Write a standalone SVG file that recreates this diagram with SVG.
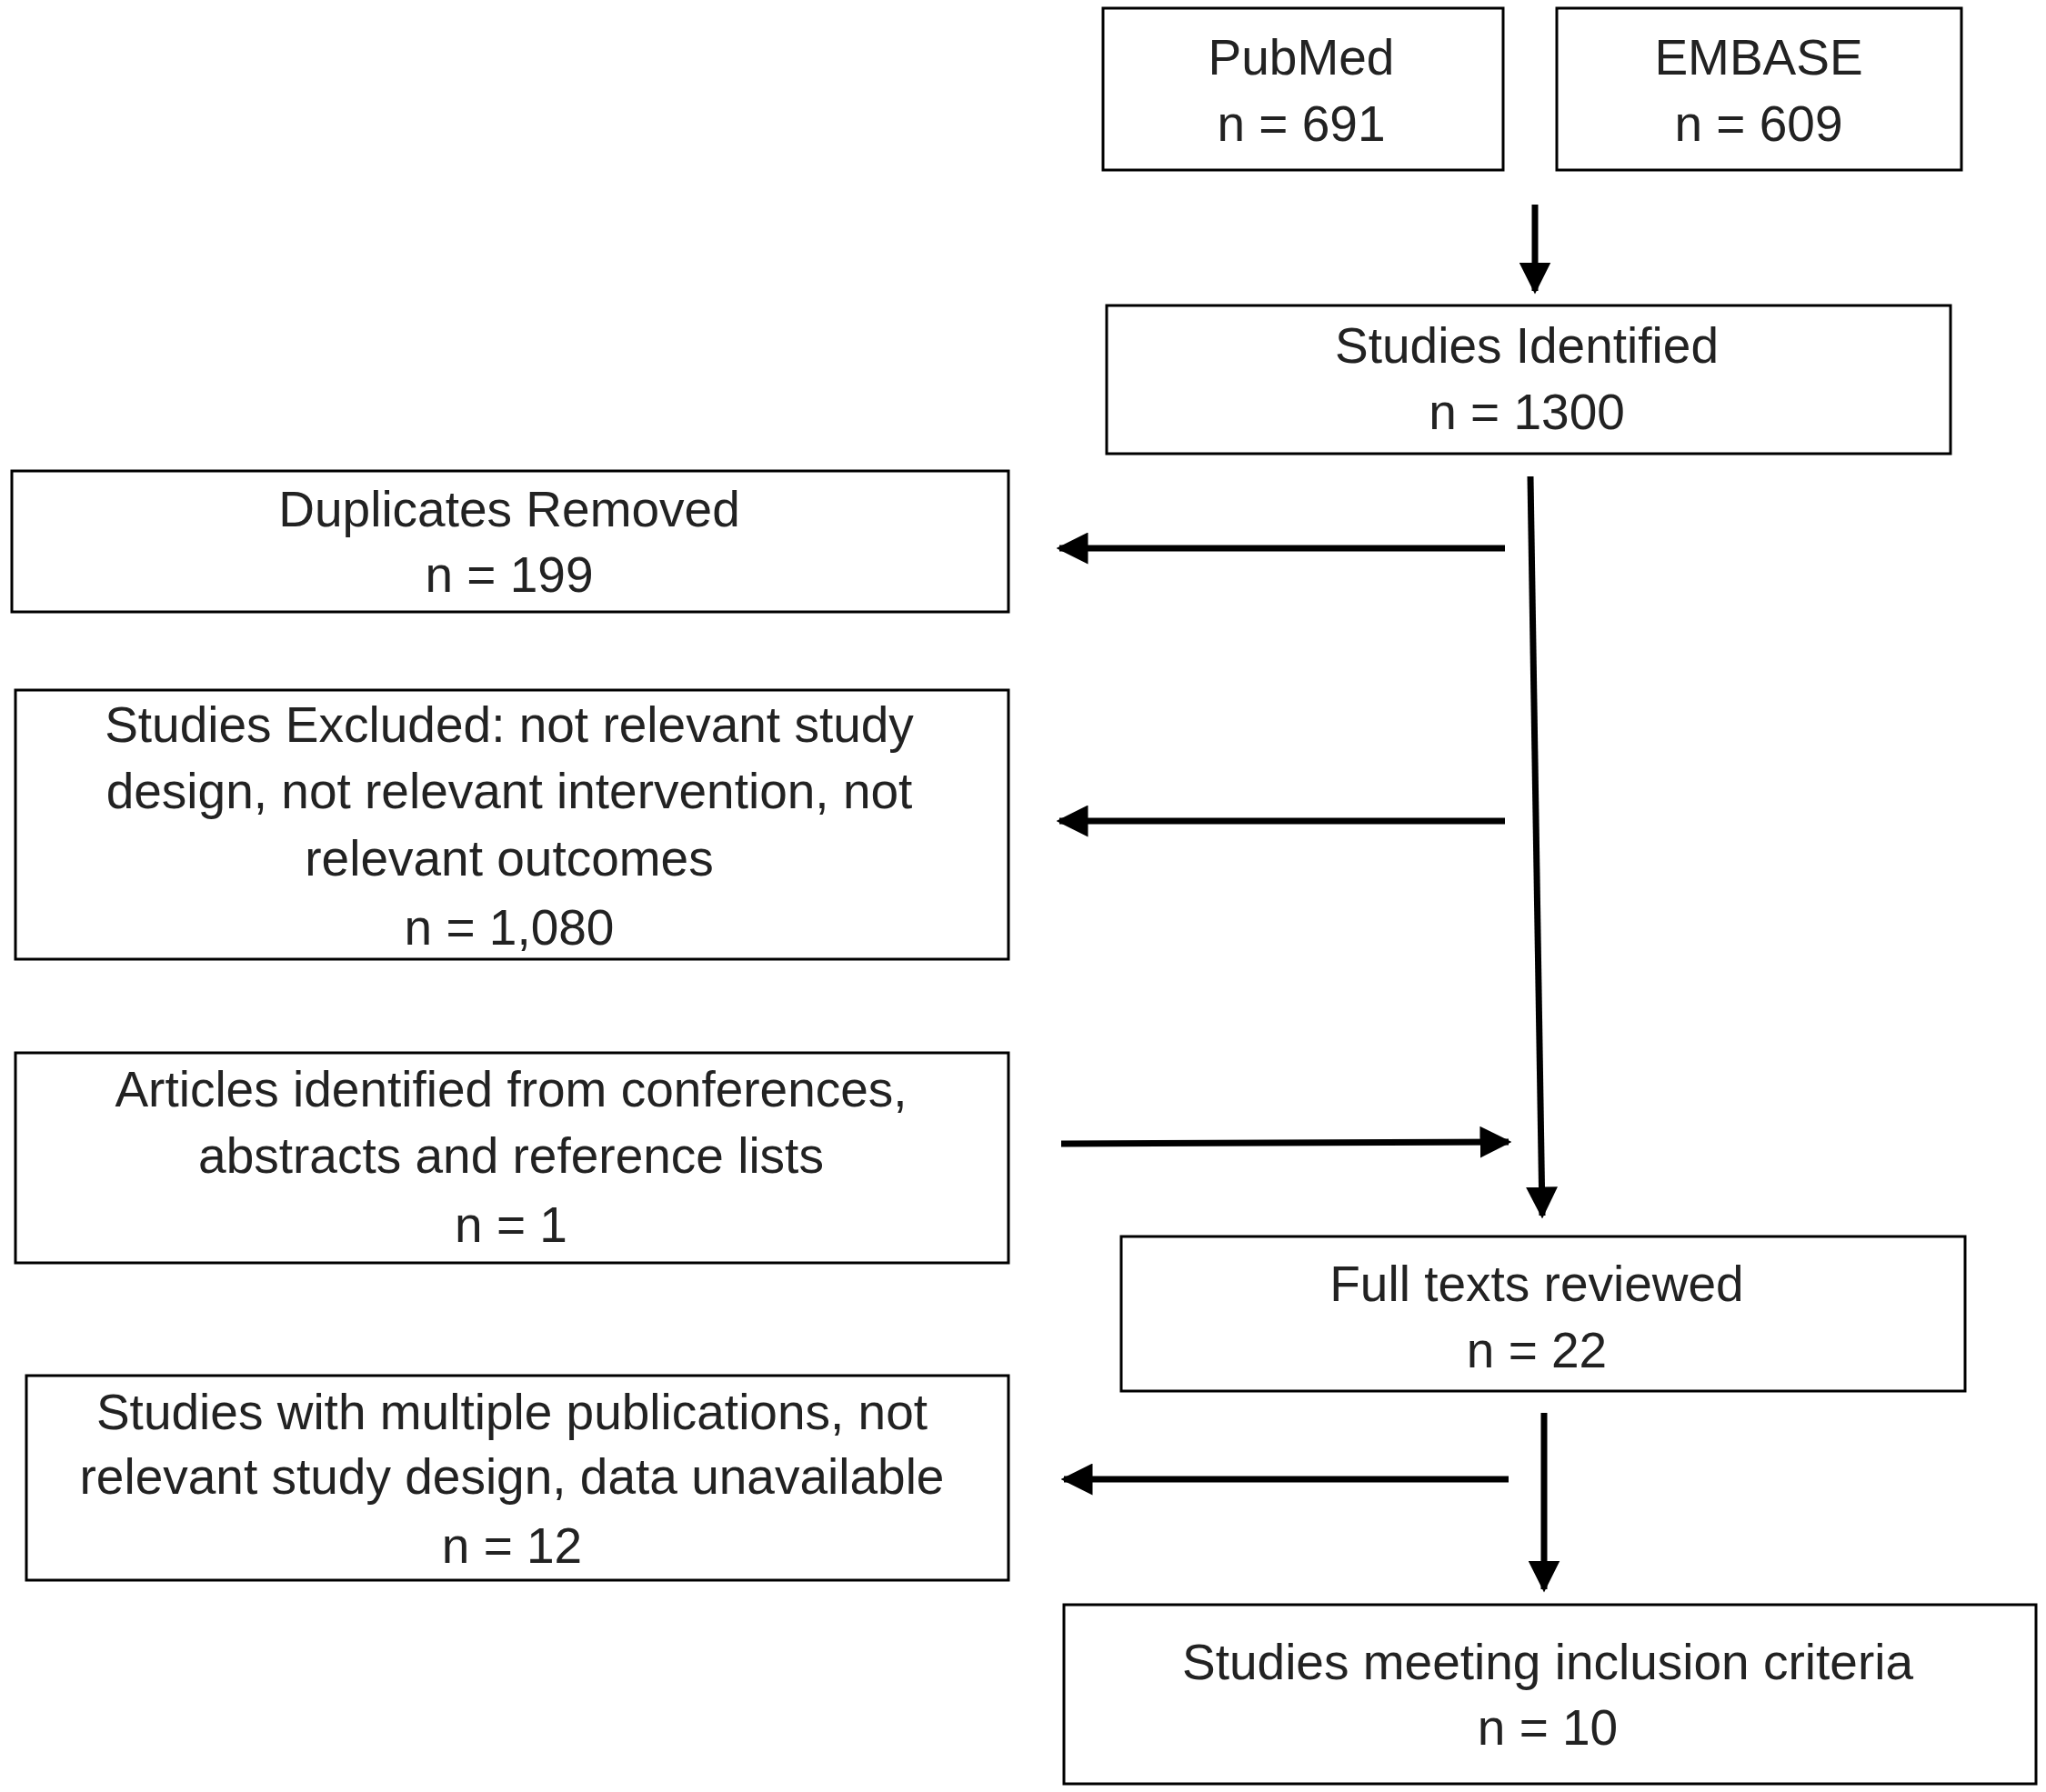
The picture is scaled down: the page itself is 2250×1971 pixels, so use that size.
<svg xmlns="http://www.w3.org/2000/svg" width="2250" height="1971" viewBox="0 0 2250 1971">
<style>
.b{fill:#fff;stroke:#000;stroke-width:3}
.t{font-family:"Liberation Sans",Arial,sans-serif;font-size:55px;fill:#222;text-anchor:middle}
.c{stroke:#000;stroke-width:7;fill:none}
</style>
<defs><marker id="a" viewBox="0 0 10 10" refX="9" refY="5" markerWidth="5" markerHeight="5" orient="auto" markerUnits="strokeWidth"><path d="M0,0L10,5L0,10z" fill="#000"/></marker></defs>
<rect width="2250" height="1971" fill="#fff"/>
<g id="pubmed"><rect class="b" x="1213" y="9" width="440" height="178"/><text class="t" x="1431" y="82">PubMed</text><text class="t" x="1431" y="155">n = 691</text></g>
<g id="embase"><rect class="b" x="1712" y="9" width="445" height="178"/><text class="t" x="1934" y="82">EMBASE</text><text class="t" x="1934" y="155">n = 609</text></g>
<g id="identified"><rect class="b" x="1217" y="336" width="928" height="163"/><text class="t" x="1679" y="399">Studies Identified</text><text class="t" x="1679" y="472">n = 1300</text></g>
<g id="duplicates"><rect class="b" x="13" y="518" width="1096" height="155"/><text class="t" x="560" y="579">Duplicates Removed</text><text class="t" x="560" y="651">n = 199</text></g>
<g id="excluded"><rect class="b" x="17" y="759" width="1092" height="296"/><text class="t" x="560" y="816">Studies Excluded: not relevant study</text><text class="t" x="560" y="889">design, not relevant intervention, not</text><text class="t" x="560" y="963">relevant outcomes</text><text class="t" x="560" y="1039">n = 1,080</text></g>
<g id="articles"><rect class="b" x="17" y="1158" width="1092" height="231"/><text class="t" x="562" y="1217">Articles identified from conferences,</text><text class="t" x="562" y="1290">abstracts and reference lists</text><text class="t" x="562" y="1366">n = 1</text></g>
<g id="fulltexts"><rect class="b" x="1233" y="1360" width="928" height="170"/><text class="t" x="1690" y="1431">Full texts reviewed</text><text class="t" x="1690" y="1504">n = 22</text></g>
<g id="multiple"><rect class="b" x="29" y="1513" width="1080" height="225"/><text class="t" x="563" y="1572">Studies with multiple publications, not</text><text class="t" x="563" y="1643">relevant study design, data unavailable</text><text class="t" x="563" y="1719">n = 12</text></g>
<g id="final"><rect class="b" x="1170" y="1765" width="1069" height="197"/><text class="t" x="1702" y="1847">Studies meeting inclusion criteria</text><text class="t" x="1702" y="1919">n = 10</text></g>
<g id="connectors">
<line class="c" x1="1688" y1="225" x2="1688" y2="320" marker-end="url(#a)"/>
<line class="c" x1="1683" y1="524" x2="1696" y2="1337" marker-end="url(#a)"/>
<line class="c" x1="1655" y1="603" x2="1165" y2="603" marker-end="url(#a)"/>
<line class="c" x1="1655" y1="903" x2="1165" y2="903" marker-end="url(#a)"/>
<line class="c" x1="1167" y1="1258" x2="1659" y2="1256" marker-end="url(#a)"/>
<line class="c" x1="1698" y1="1554" x2="1698" y2="1748" marker-end="url(#a)"/>
<line class="c" x1="1659" y1="1627" x2="1170" y2="1627" marker-end="url(#a)"/>
</g>
</svg>
